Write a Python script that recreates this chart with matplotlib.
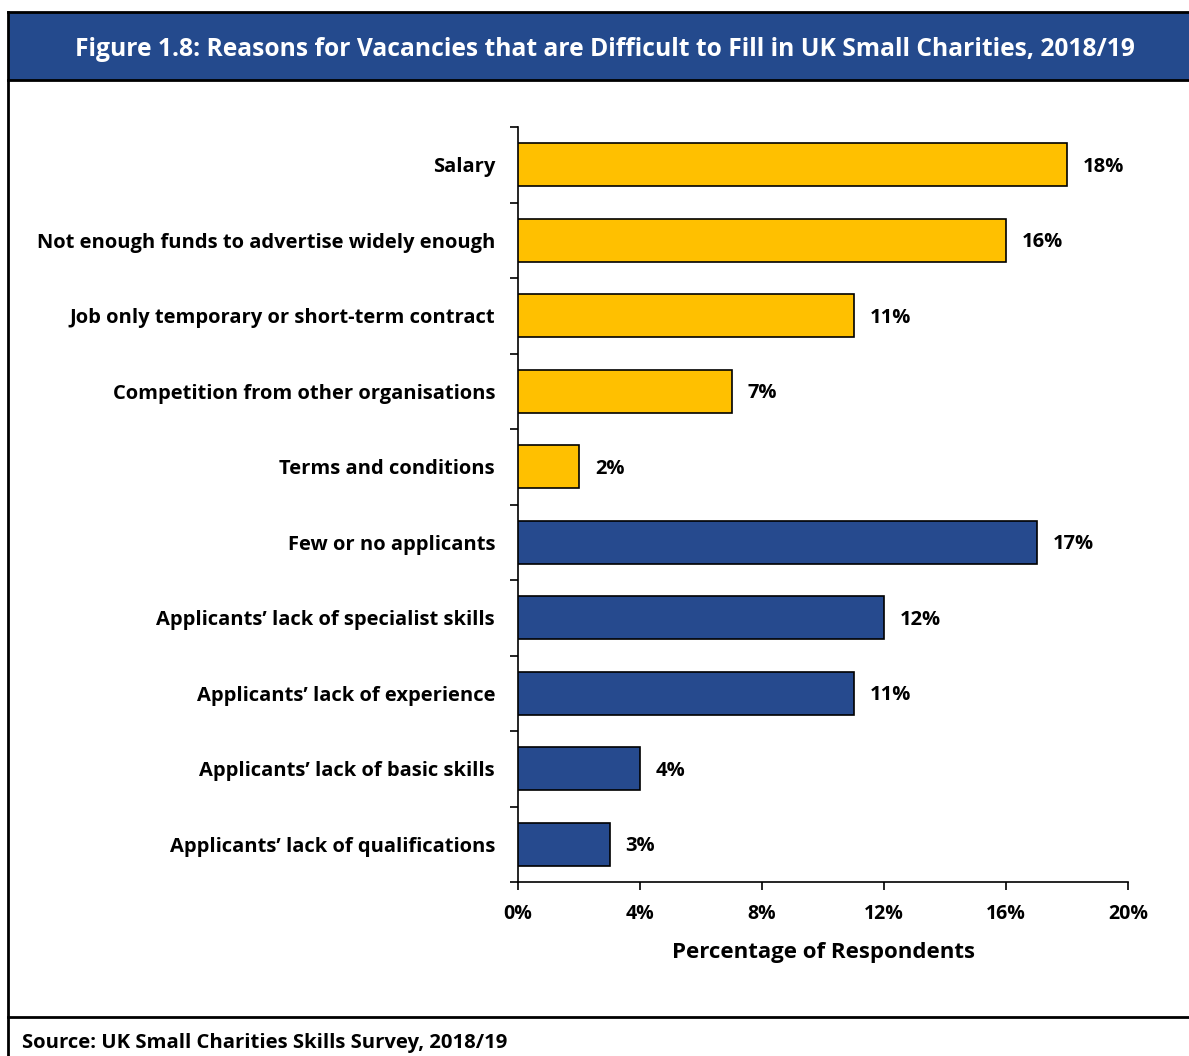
import numpy as np
import matplotlib.pyplot as plt
from matplotlib.patches import Rectangle
from matplotlib.lines import Line2D
from matplotlib.ticker import FixedLocator, PercentFormatter

plt.rcParams['font.family'] = ['Open Sans', 'DejaVu Sans']
plt.rcParams['font.weight'] = 'bold'

# Chart data, top to bottom
reasons = [
    'Salary',
    'Not enough funds to advertise widely enough',
    'Job only temporary or short-term contract',
    'Competition from other organisations',
    'Terms and conditions',
    'Few or no applicants',
    'Applicants\u2019 lack of specialist skills',
    'Applicants\u2019 lack of experience',
    'Applicants\u2019 lack of basic skills',
    'Applicants\u2019 lack of qualifications',
]
percent = [18, 16, 11, 7, 2, 17, 12, 11, 4, 3]
group = ['job', 'job', 'job', 'job', 'job',
         'applicant', 'applicant', 'applicant', 'applicant', 'applicant']
x_ticks = [0, 4, 8, 12, 16, 20]

group_colors = {'job': '#FFC000', 'applicant': '#264A8E'}
title_blue = '#244A8D'

fig = plt.figure(figsize=(11.89, 10.56), dpi=100)

# Outer frame with title bar
fig.patches.append(Rectangle((8 / 1189, 0.9242), 1.2, 0.9886 - 0.9242,
                             transform=fig.transFigure, facecolor=title_blue,
                             edgecolor='none', zorder=0))
frame_kw = dict(transform=fig.transFigure, color='black', linewidth=2)
fig.lines.append(Line2D([8 / 1189, 1], [0.9886, 0.9886], **frame_kw))
fig.lines.append(Line2D([8 / 1189, 1], [0.9242, 0.9242], **frame_kw))
fig.lines.append(Line2D([8 / 1189, 1], [0.0369, 0.0369], **frame_kw))
fig.lines.append(Line2D([8 / 1189, 8 / 1189], [0, 0.9886], **frame_kw))

fig.text(605 / 1189, 1 - 49 / 1056,
         'Figure 1.8: Reasons for Vacancies that are Difficult to Fill in UK Small Charities, 2018/19',
         color='white', fontsize=17.7, fontweight='bold', ha='center', va='center')
fig.text(22 / 1189, 1 - 1043 / 1056, 'Source: UK Small Charities Skills Survey, 2018/19',
         fontsize=14.6, fontweight='bold', ha='left', va='center')

ax = fig.add_axes([518 / 1189, 174 / 1056, 610 / 1189, 755 / 1056])
y = np.arange(len(reasons))
colors = [group_colors[g] for g in group]
ax.barh(y, percent, height=0.57, color=colors, edgecolor='black', linewidth=1.2, zorder=3)

for yi, v in zip(y, percent):
    ax.annotate(f'{v}%', (v, yi), xytext=(11.5, -1.5), textcoords='offset points',
                ha='left', va='center', fontsize=14.5, fontweight='bold')

ax.set_xlim(0, 20)
ax.set_ylim(len(reasons) - 0.5, -0.5)
ax.xaxis.set_major_locator(FixedLocator(x_ticks))
ax.xaxis.set_major_formatter(PercentFormatter(decimals=0))
ax.set_yticks(y)
ax.set_yticklabels(reasons)
ax.yaxis.set_minor_locator(FixedLocator(np.arange(-0.5, len(reasons), 1)))
ax.tick_params(axis='y', which='major', length=0, pad=16.5, labelsize=14.5)
ax.tick_params(axis='y', which='minor', length=6, width=1.2, direction='out')
ax.tick_params(axis='x', length=6, width=1.2, direction='out', labelsize=14, pad=10)
for spine in ['top', 'right']:
    ax.spines[spine].set_visible(False)
for spine in ['left', 'bottom']:
    ax.spines[spine].set_linewidth(1.2)
ax.set_xlabel('Percentage of Respondents', fontsize=16, fontweight='bold', labelpad=13)

fig.savefig('out.png', dpi=100)
